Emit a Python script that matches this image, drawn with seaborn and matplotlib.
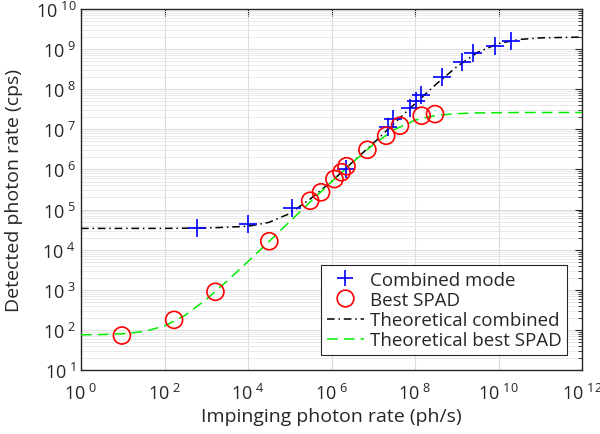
import numpy as np
import pandas as pd
import matplotlib
matplotlib.use("Agg")
import matplotlib.pyplot as plt
from matplotlib.lines import Line2D
from matplotlib.ticker import FixedLocator, FixedFormatter, NullLocator
import seaborn as sns

# exponents (log10)
comb_x = [2.78, 4.00, 5.05, 6.35, 7.35, 7.47, 7.88, 8.02, 8.14, 8.64, 9.12, 9.40, 9.92, 10.29]
comb_y = [4.54, 4.64, 5.04, 6.01, 7.06, 7.26, 7.53, 7.71, 7.86, 8.30, 8.67, 8.90, 9.09, 9.21]

spad_x = [0.98, 2.23, 3.22, 4.51, 5.49, 5.75, 6.07, 6.24, 6.36, 6.86, 7.31, 7.64, 8.16, 8.48]
spad_y = [1.86, 2.25, 2.95, 4.21, 5.22, 5.43, 5.76, 5.93, 6.08, 6.49, 6.84, 7.09, 7.34, 7.38]

curve_x = [0, 0.5, 1, 1.5, 2, 2.5, 3, 3.5, 4, 4.5, 5, 5.5, 6, 6.5, 7, 7.5, 8,
           8.5, 9, 9.5, 10, 10.5, 11, 11.5, 12]
theo_comb = [4.53, 4.53, 4.53, 4.53, 4.53, 4.535, 4.54, 4.56, 4.585, 4.68, 4.90,
             5.27, 5.70, 6.18, 6.65, 7.15, 7.64, 8.12, 8.56, 8.92, 9.14, 9.24,
             9.28, 9.29, 9.30]
theo_spad = [1.878, 1.884, 1.903, 1.958, 2.097, 2.367, 2.76, 3.22, 3.705, 4.20,
             4.70, 5.20, 5.69, 6.17, 6.62, 6.99, 7.23, 7.35, 7.39, 7.41, 7.415,
             7.42, 7.42, 7.42, 7.42]

x_ticks = [0, 2, 4, 6, 8, 10, 12]
y_ticks = [1, 2, 3, 4, 5, 6, 7, 8, 9, 10]

sns.set_style("white")
plt.rcParams['font.family'] = ['Open Sans', 'DejaVu Sans']

curves = pd.DataFrame({"x": np.power(10.0, curve_x),
                       "comb": np.power(10.0, theo_comb),
                       "spad": np.power(10.0, theo_spad)})
comb = pd.DataFrame({"x": np.power(10.0, comb_x), "y": np.power(10.0, comb_y)})
spad = pd.DataFrame({"x": np.power(10.0, spad_x), "y": np.power(10.0, spad_y)})

fig = plt.figure(figsize=(6, 4.35), dpi=100)
ax = fig.add_axes([81 / 600, 64 / 435, 501 / 600, 361 / 435])
ax.set_xscale("log")
ax.set_yscale("log")

dashdot = (0, (5, 2.5, 1, 2.5))
dashed = (0, (7, 4))
sns.lineplot(data=curves, x="x", y="comb", ax=ax, color="black", lw=1.1,
             linestyle=dashdot, sort=False, zorder=3)
sns.lineplot(data=curves, x="x", y="spad", ax=ax, color="#00ee00", lw=1.1,
             linestyle=dashed, sort=False, zorder=3)
sns.scatterplot(data=comb, x="x", y="y", ax=ax, marker="+", s=150,
                color="blue", linewidth=1.2, zorder=4)
sns.scatterplot(data=spad, x="x", y="y", ax=ax, marker="o", s=150,
                facecolor="none", edgecolor="red", linewidth=1.2, zorder=4)

ax.set_xlim(1, 1e12)
ax.set_ylim(10, 1e10)

ax.xaxis.set_major_locator(FixedLocator(np.power(10.0, x_ticks)))
ax.xaxis.set_major_formatter(FixedFormatter([r"$\mathregular{10^{\ %d}}$" % e for e in x_ticks]))
ax.xaxis.set_minor_locator(NullLocator())
ax.yaxis.set_major_locator(FixedLocator(np.power(10.0, y_ticks)))
ax.yaxis.set_major_formatter(FixedFormatter([r"$\mathregular{10^{\ %d}}$" % e for e in y_ticks]))
ax.yaxis.set_minor_locator(FixedLocator([m * 10.0 ** e for e in range(1, 10) for m in range(2, 10)]))

ax.grid(True, which="major", color="#dcdcdc", lw=0.8)
ax.grid(True, which="minor", axis="y", color="#e6e6e6", lw=0.6)
ax.set_axisbelow(True)

ax.tick_params(which="both", direction="in", top=True, right=True, colors="#262626",
               labelsize=13, labelcolor="#262626")
ax.tick_params(which="major", length=5, width=0.8)
ax.tick_params(which="minor", length=3, width=0.6)
ax.tick_params(axis="x", which="major", pad=9)
for s in ax.spines.values():
    s.set_color("#262626")
    s.set_linewidth(1.0)

ax.set_xlabel("Impinging photon rate (ph/s)", fontsize=14, color="#262626", labelpad=3)
ax.set_ylabel("Detected photon rate (cps)", fontsize=14, color="#262626", labelpad=9)

handles = [
    Line2D([], [], color="blue", marker="+", ls="none", ms=12, mew=1.2),
    Line2D([], [], color="red", marker="o", mfc="none", ls="none", ms=12, mew=1.2),
    Line2D([], [], color="black", lw=1.1, ls=dashdot),
    Line2D([], [], color="#00ee00", lw=1.1, ls=dashed),
]
labels = ["Combined mode", "Best SPAD", "Theoretical combined", "Theoretical best SPAD"]
leg = ax.legend(handles, labels, loc="lower right", fontsize=13.5, frameon=True,
                fancybox=False, framealpha=1, edgecolor="#262626",
                borderaxespad=0.8, handlelength=2.0, handletextpad=0.3,
                labelspacing=0.12, borderpad=0.3)
leg.get_frame().set_linewidth(0.8)

fig.savefig("out.png", dpi=100)
